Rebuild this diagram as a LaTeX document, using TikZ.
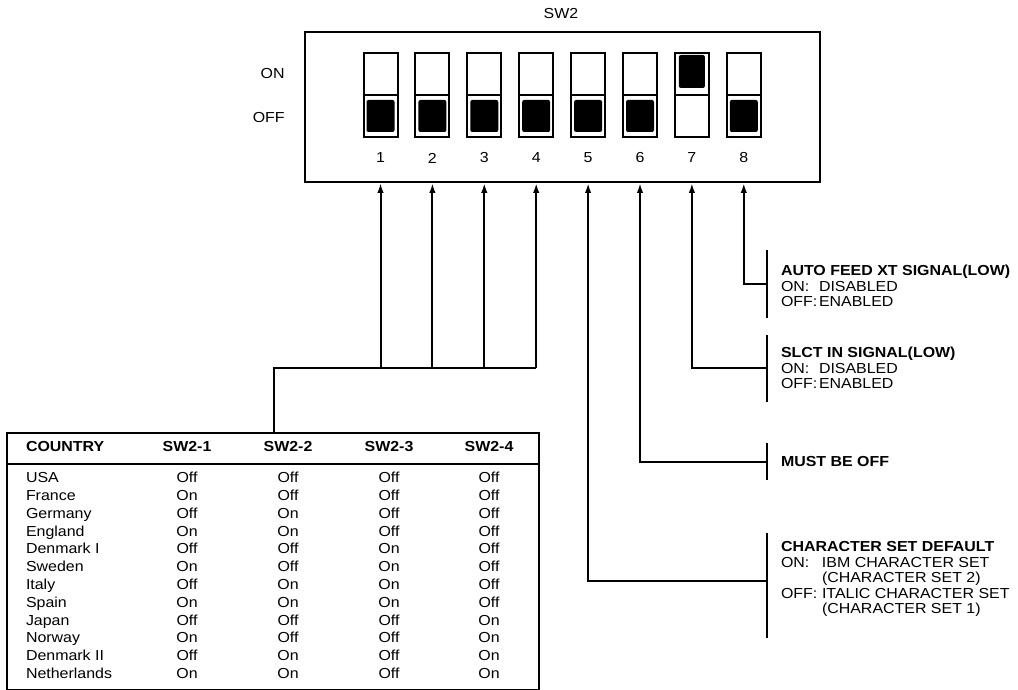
\documentclass[tikz,border=0pt]{standalone}
\usepackage{fontspec}
\setmainfont{Liberation Sans}[FakeStretch=1.1]
\usetikzlibrary{arrows.meta,calc}

\begin{document}
\begin{tikzpicture}[x=1pt,y=-1pt,line width=2pt,
  every node/.style={font=\fontsize{14.5}{15.5}\selectfont},
  arr/.style={-{Latex[length=10pt,width=6.5pt]}},
  switch/.style={draw,minimum width=34pt,minimum height=84pt,inner sep=0pt},
  tcell/.style={inner sep=0pt,text height=10.5pt,text depth=3pt},
  lbl/.style={anchor=west,align=left,inner sep=0pt}]
\useasboundingbox (0,0) rectangle (1018,690);
\node[draw,anchor=north west,minimum width=515pt,minimum height=150pt,inner sep=0pt] (box) at (304,31) {};
\node (sw) at (561,14) {SW2};
\node[anchor=east] (on) at (289,74) {ON};
\node[anchor=east] (off) at (289,118) {OFF};
\foreach \i in {1,...,8} {
  \pgfmathsetmacro\cx{380.5+51.9*(\i-1)}
  \node[switch] (s\i) at (\cx,95) {};
  \draw (s\i.west) -- (s\i.east);
  \node (n\i) at (\cx,158) {\i};
}
\foreach \i in {1,2,3,4,5,6,8}
  \fill[rounded corners=2pt] ($(s\i.south west)+(4,-6)$) rectangle ($(s\i.east)+(-4,5)$);
\fill[rounded corners=2pt] ($(s7.north west)+(5,3)$) rectangle ($(s7.east)+(-5,-7)$);

\node[draw,anchor=north west,minimum width=532pt,minimum height=257pt,inner sep=0pt] (tbl) at (6,432) {};
\draw (tbl.west |- 0,464) -- (tbl.east |- 0,464);
\node[tcell,anchor=west] (hc) at (25,448) {\textbf{COUNTRY}};
\foreach \j/\cx in {1/187,2/288,3/389,4/489}
  \node[tcell] (h\j) at (\cx,448) {\textbf{SW2-\j}};
\foreach \name/\a/\b/\c/\d [count=\k from 0] in {USA/Off/Off/Off/Off,France/On/Off/Off/Off,
    Germany/Off/On/Off/Off,England/On/On/Off/Off,Denmark I/Off/Off/On/Off,Sweden/On/Off/On/Off,
    Italy/Off/On/On/Off,Spain/On/On/On/Off,Japan/Off/Off/Off/On,Norway/On/Off/Off/On,
    Denmark II/Off/On/Off/On,Netherlands/On/On/Off/On} {
  \pgfmathsetmacro\ry{479+17.8*\k}
  \node[tcell,anchor=west] (r\k) at (25,\ry) {\name};
  \node[tcell] (r\k a) at (187,\ry) {\a};
  \node[tcell] (r\k b) at (288,\ry) {\b};
  \node[tcell] (r\k c) at (389,\ry) {\c};
  \node[tcell] (r\k d) at (489,\ry) {\d};
}

\coordinate (bus) at (274,368);
\draw (tbl.north -| bus) -- (bus) -- (bus -| s4);
\foreach \i in {1,...,4}
  \draw[arr] (bus -| s\i) -- (s\i |- box.south);

\coordinate (j8) at (767,284);
\coordinate (j7) at (767,368);
\coordinate (j6) at (767,462);
\coordinate (j5) at (767,581);
\draw (767,250) -- (767,318);
\draw (767,335) -- (767,402);
\draw (767,443) -- (767,480);
\draw (767,533) -- (767,638);
\foreach \i in {5,...,8}
  \draw[arr] (j\i) -| (s\i |- box.south);

\node[lbl] (l8) at (780,286) {\textbf{AUTO FEED XT SIGNAL(LOW)}\\
  \makebox[38pt][l]{ON:}DISABLED\\ \makebox[38pt][l]{OFF:}ENABLED};
\node[lbl] (l7) at (780,368) {\textbf{SLCT IN SIGNAL(LOW)}\\
  \makebox[38pt][l]{ON:}DISABLED\\ \makebox[38pt][l]{OFF:}ENABLED};
\node[lbl] (l6) at (780,462) {\textbf{MUST BE OFF}};
\node[lbl] (l5) at (780,579) {\textbf{CHARACTER SET DEFAULT}\\
  \makebox[41pt][l]{ON:}IBM CHARACTER SET\\ \makebox[41pt][l]{}(CHARACTER SET 2)\\
  \makebox[41pt][l]{OFF:}ITALIC CHARACTER SET\\ \makebox[41pt][l]{}(CHARACTER SET 1)};
\end{tikzpicture}
\end{document}
